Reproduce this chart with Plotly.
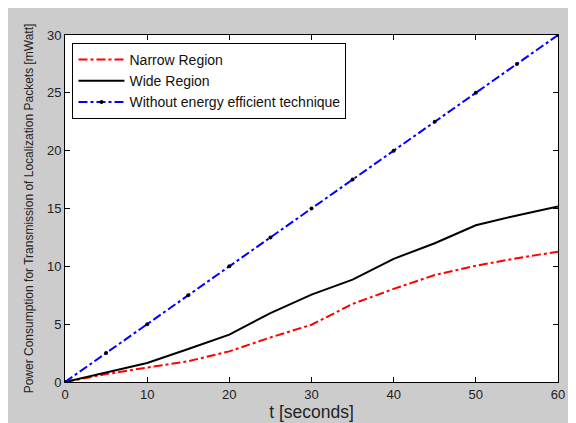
import plotly.graph_objects as go

t = [0, 5, 10, 15, 20, 25, 30, 35, 40, 45, 50, 55, 60]
narrow = [0, 0.68, 1.25, 1.8, 2.65, 3.85, 4.95, 6.75, 8.05, 9.25, 10.05, 10.7, 11.27]
wide = [0, 0.85, 1.65, 2.85, 4.1, 5.95, 7.55, 8.85, 10.65, 12.0, 13.55, 14.4, 15.17]
without = [0, 2.5, 5, 7.5, 10, 12.5, 15, 17.5, 20, 22.5, 25, 27.5, 30]

x_ticks = [0, 10, 20, 30, 40, 50, 60]
y_ticks = [0, 5, 10, 15, 20, 25, 30]

fig = go.Figure()
fig.add_trace(go.Scatter(x=t, y=narrow, mode="lines", name="Narrow Region",
                         line=dict(color="#ff0000", width=2, dash="dashdot")))
fig.add_trace(go.Scatter(x=t, y=wide, mode="lines", name="Wide Region",
                         line=dict(color="#000000", width=2)))
fig.add_trace(go.Scatter(x=t, y=without, mode="lines+markers",
                         name="Without energy efficient technique",
                         line=dict(color="#0000ff", width=2, dash="dashdot"),
                         marker=dict(color="#000000", size=4, symbol="circle")))

# page body has an 8px margin; figure occupies (8,8)-(576,423)
OFF = 8
W, H = 568, 415
L, R, T, B = 64.5 - OFF, 17.5, 35 - OFF, 41
pw, ph = W - L - R, H - T - B

def px2x(px):
    return (px - OFF - L) / pw

def py2y(py):
    return (OFF + H - B - py) / ph

axis_common = dict(showgrid=False, zeroline=False, showline=True, linecolor="#000000",
                   linewidth=1, mirror="ticks", ticks="inside", ticklen=5,
                   tickcolor="#000000", automargin=False,
                   tickfont=dict(family="Liberation Sans, Arial", size=13, color="#222222"))

fig.update_layout(
    width=W, height=H,
    margin=dict(l=L, r=R, t=T, b=B, pad=0, autoexpand=False),
    paper_bgcolor="#cccccc",
    plot_bgcolor="#ffffff",
    font=dict(family="Liberation Sans, Arial", color="#222222"),
    xaxis=dict(range=[0, 60], tickvals=x_ticks,
               title=dict(text="t [seconds]", font=dict(size=17.5), standoff=3),
               **axis_common),
    yaxis=dict(range=[0, 30], tickvals=y_ticks,
               title=dict(text="Power Consumption for Transmission of Localization Packets [mWatt]",
                          font=dict(size=12), standoff=10),
               **axis_common),
    legend=dict(x=px2x(72), y=py2y(43), xanchor="left", yanchor="top",
                bgcolor="#ffffff", bordercolor="#000000", borderwidth=1,
                font=dict(size=14, color="#111111"), tracegroupgap=0,
                itemwidth=46),
    showlegend=True,
)

fig.write_html("out.html")
